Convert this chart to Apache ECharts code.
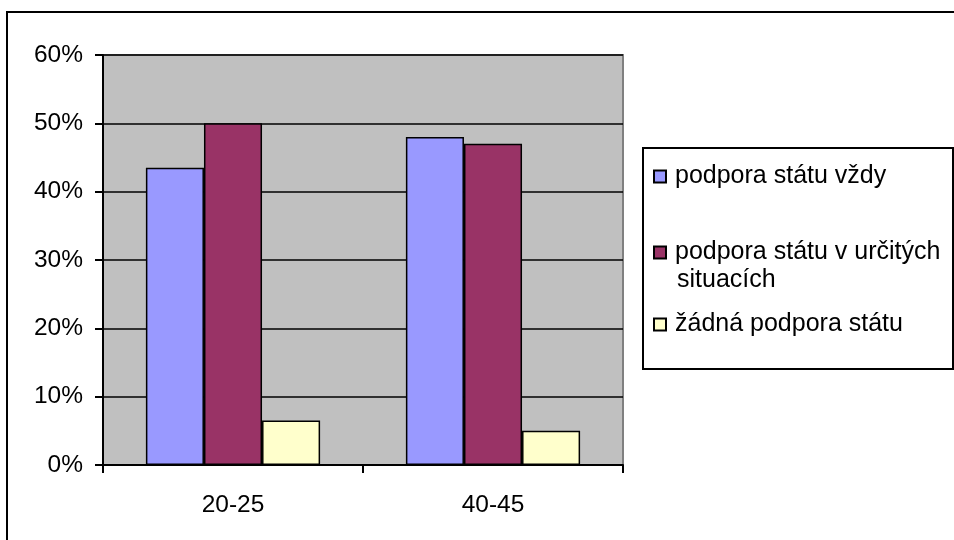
<!DOCTYPE html>
<html>
<head>
<meta charset="utf-8">
<script src="https://cdn.jsdelivr.net/npm/echarts@6/dist/echarts.min.js"></script>
<style>html,body{margin:0;padding:0;background:#fff;}#c{width:954px;height:540px;}</style>
</head>
<body>
<div id="c"></div>
<script>
const categories = ['20-25', '40-45'];
const seriesNames = ['podpora státu vždy', 'podpora státu v určitých situacích', 'žádná podpora státu'];
const vzdy = [43.5, 48];
const urcite = [50, 47];
const zadna = [6.5, 5];
const yTicks = [0, 10, 20, 30, 40, 50, 60];

const colors = ['#9999ff', '#993366', '#ffffcc'];
const values = [vzdy, urcite, zadna];
const FONT = '"Liberation Sans", Arial, sans-serif';

const chart = echarts.init(document.getElementById('c'), null, {renderer: 'canvas'});
const legendTops = [159, 235, 307];
const legendLabels = ['podpora státu vždy', 'podpora státu v určitých', 'žádná podpora státu'];
chart.setOption({
  animation: false,
  backgroundColor: '#fff',
  grid: {left: 103, right: 331, top: 55, bottom: 75, show: true, backgroundColor: '#c0c0c0', borderColor: '#808080', borderWidth: 2},
  xAxis: {
    type: 'category', data: categories,
    axisLine: {lineStyle: {color: '#000', width: 2}},
    axisTick: {show: true, length: 8, lineStyle: {color: '#000', width: 2}},
    axisLabel: {color: '#000', fontSize: 24.5, fontFamily: FONT, margin: 28}
  },
  yAxis: {
    type: 'value', min: yTicks[0], max: yTicks[yTicks.length - 1], interval: 10,
    axisLine: {show: true, lineStyle: {color: '#000', width: 2}},
    axisTick: {show: true, length: 8, lineStyle: {color: '#000', width: 2}},
    axisLabel: {color: '#000', fontSize: 24.5, fontFamily: FONT, margin: 20, formatter: v => v + '%'},
    splitLine: {show: true, lineStyle: {color: '#000', width: 1.5}}
  },
  legend: seriesNames.map((n, i) => ({
    data: [n], orient: 'vertical', left: 648, top: legendTops[i],
    icon: 'rect', itemWidth: 12, itemHeight: 12,
    formatter: () => legendLabels[i],
    textStyle: {color: '#000', fontSize: 25, fontFamily: FONT, padding: [0, 0, 0, 4]},
    selectedMode: false
  })),
  series: seriesNames.map((n, i) => ({
    name: n, type: 'bar', data: values[i],
    barGap: '0%', barCategoryGap: '33%',
    itemStyle: {color: colors[i], borderColor: '#000', borderWidth: 1.5}
  })),
  graphic: [
    {type: 'rect', shape: {x: 7, y: 12, width: 960, height: 540}, style: {fill: 'none', stroke: '#000', lineWidth: 2}, silent: true},
    {type: 'rect', shape: {x: 643, y: 148, width: 310, height: 221}, style: {fill: '#fff', stroke: '#000', lineWidth: 2}, silent: true, z: -1},
    {type: 'text', left: 677, top: 268, style: {text: 'situacích', fill: '#000', font: '25px ' + FONT}, silent: true}
  ]
});
</script>
</body>
</html>
